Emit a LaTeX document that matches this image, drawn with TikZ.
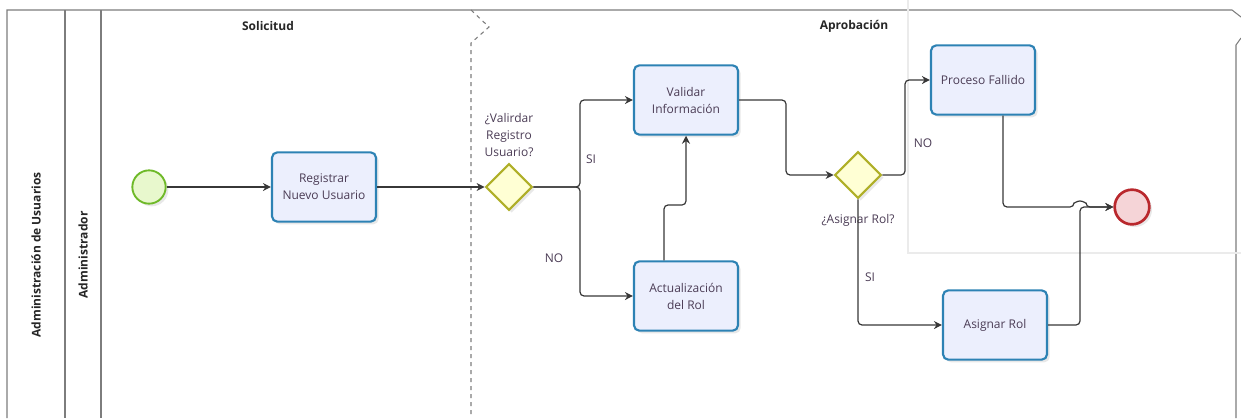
\documentclass[tikz,border=0pt]{standalone}
\usepackage{fontspec}
\setmainfont{Open Sans}
\usepackage{tikz}
\usetikzlibrary{shapes.geometric, arrows.meta, positioning, shadows, calc}
\definecolor{taskcol}{RGB}{45,130,180}
\definecolor{taskfill}{RGB}{236,239,253}
\definecolor{startcol}{RGB}{110,185,40}
\definecolor{startfill}{RGB}{232,248,205}
\definecolor{gatecol}{RGB}{175,175,40}
\definecolor{gatefill}{RGB}{255,255,212}
\definecolor{endcol}{RGB}{185,40,45}
\definecolor{endfill}{RGB}{245,212,215}
\definecolor{flowcol}{RGB}{55,55,55}
\definecolor{txtcol}{RGB}{75,60,85}
\definecolor{poolcol}{RGB}{125,125,125}

\begin{document}
\begin{tikzpicture}[x=0.75pt, y=-0.75pt,
  task/.style={draw=taskcol, fill=taskfill, line width=1.6pt,
    rounded corners=4pt, minimum width=78pt, minimum height=52pt,
    align=center, text=txtcol, font=\fontsize{9}{12.75}\selectfont,
    drop shadow={opacity=0.18, shadow xshift=2pt, shadow yshift=-2pt}},
  gate/.style={diamond, draw=gatecol, fill=gatefill, line width=1.6pt,
    minimum width=35pt, minimum height=35pt, inner sep=0pt,
    drop shadow={opacity=0.18, shadow xshift=2pt, shadow yshift=-2pt}},
  startev/.style={circle, draw=startcol, fill=startfill, line width=1.4pt,
    minimum size=25pt, inner sep=0pt,
    drop shadow={opacity=0.18, shadow xshift=2pt, shadow yshift=-2pt}},
  endev/.style={circle, draw=endcol, fill=endfill, line width=2pt,
    minimum size=26pt, inner sep=0pt,
    drop shadow={opacity=0.18, shadow xshift=2pt, shadow yshift=-2pt}},
  flow/.style={draw=flowcol, line width=0.9pt, rounded corners=3pt,
    -{Stealth[length=6pt, width=6pt]}},
  gatelbl/.style={align=center, text=txtcol, font=\fontsize{9}{12.75}\selectfont},
  flowlbl/.style={text=txtcol, font=\fontsize{9}{11}\selectfont},
  heading/.style={font=\fontsize{9}{11}\selectfont\bfseries, text=black!85}
]
  \useasboundingbox (0,0) rectangle (1241,418);

  % Pool and lanes
  \draw[poolcol, line width=0.8pt] (7,418) -- (7,10) -- (1232,10) -- (1241,17);
  \draw[poolcol, line width=0.8pt] (65,10) -- (65,418);
  \draw[poolcol, line width=0.8pt] (101,10) -- (101,418);
  \draw[poolcol, line width=0.8pt] (1241,38) -- (1236,45) -- (1236,418);
  \draw[poolcol, line width=0.8pt, dashed]
    (471,10) -- (489,27) -- (471,43) -- (471,418);
  \node[heading, rotate=90] (poolName) at (36,255) {Administración de Usuarios};
  \node[heading, rotate=90] (laneName) at (83,255) {Administrador};
  \node[heading] (phaseA) at (268,26) {Solicitud};
  \node[heading] (phaseB) at (854,26) {Aprobación};

  % Faint window edge
  \draw[black!8, line width=1pt] (908,0) -- (908,253) -- (1241,253);

  % Events, tasks and gateways
  \node[startev] (start) at (149,187) {};
  \node[task] (regUser) at (324,187) {Registrar\\Nuevo Usuario};
  \node[gate] (gwValid) at (509,187) {};
  \node[task] (valInfo) at (686,100) {Validar\\Información};
  \node[task] (actRol) at (686,296) {Actualización\\del Rol};
  \node[gate] (gwRol) at (858,175) {};
  \node[task] (procFail) at (983,80) {Proceso Fallido};
  \node[task] (asgRol) at (995,325) {Asignar Rol};
  \node[endev] (finish) at (1132,207) {};

  % Gateway questions
  \node[gatelbl, above=1pt of gwValid] (qValid) {¿Valirdar\\Registro\\Usuario?};
  \node[gatelbl, below=8pt of gwRol] (qRol) {¿Asignar Rol?};

  % Bend points
  \coordinate (splitA) at (580,187);
  \coordinate (joinA) at (686,205);
  \coordinate (bendB) at (786,140);
  \coordinate (bendC) at (905,130);
  \coordinate (hopL) at (1074,207);
  \coordinate (mergeD) at (1080,207);

  % Sequence flows
  \draw[flow] (start) -- (regUser);
  \draw[flow] (regUser) -- (gwValid);
  \draw[flow] (gwValid.east) -- (splitA) |- (valInfo.west);
  \draw[flow] (gwValid.east) -- (splitA) |- (actRol.west);
  \draw[flow] ([xshift=-16.5pt]actRol.north) |- (joinA) -- (valInfo.south);
  \draw[flow] (valInfo.east) -| (bendB) |- (gwRol.west);
  \draw[flow] (gwRol.east) -| (bendC) |- (procFail.west);
  \draw[flow] (gwRol.south) |- (asgRol.west);
  \draw[flow] ([xshift=15pt]procFail.south) |- (hopL)
    arc[start angle=180, end angle=0, radius=4.5pt] -- (finish.west);
  \draw[flow] (asgRol.east) -| (mergeD) -- (finish.west);

  % Flow labels
  \foreach \n/\lbl/\pos in
    {siA/SI/{591,159}, noA/NO/{554,258}, noB/NO/{923,143}, siB/SI/{870,277}} {
    \node[flowlbl] (\n) at (\pos) {\lbl};
  }

\end{tikzpicture}
\end{document}
